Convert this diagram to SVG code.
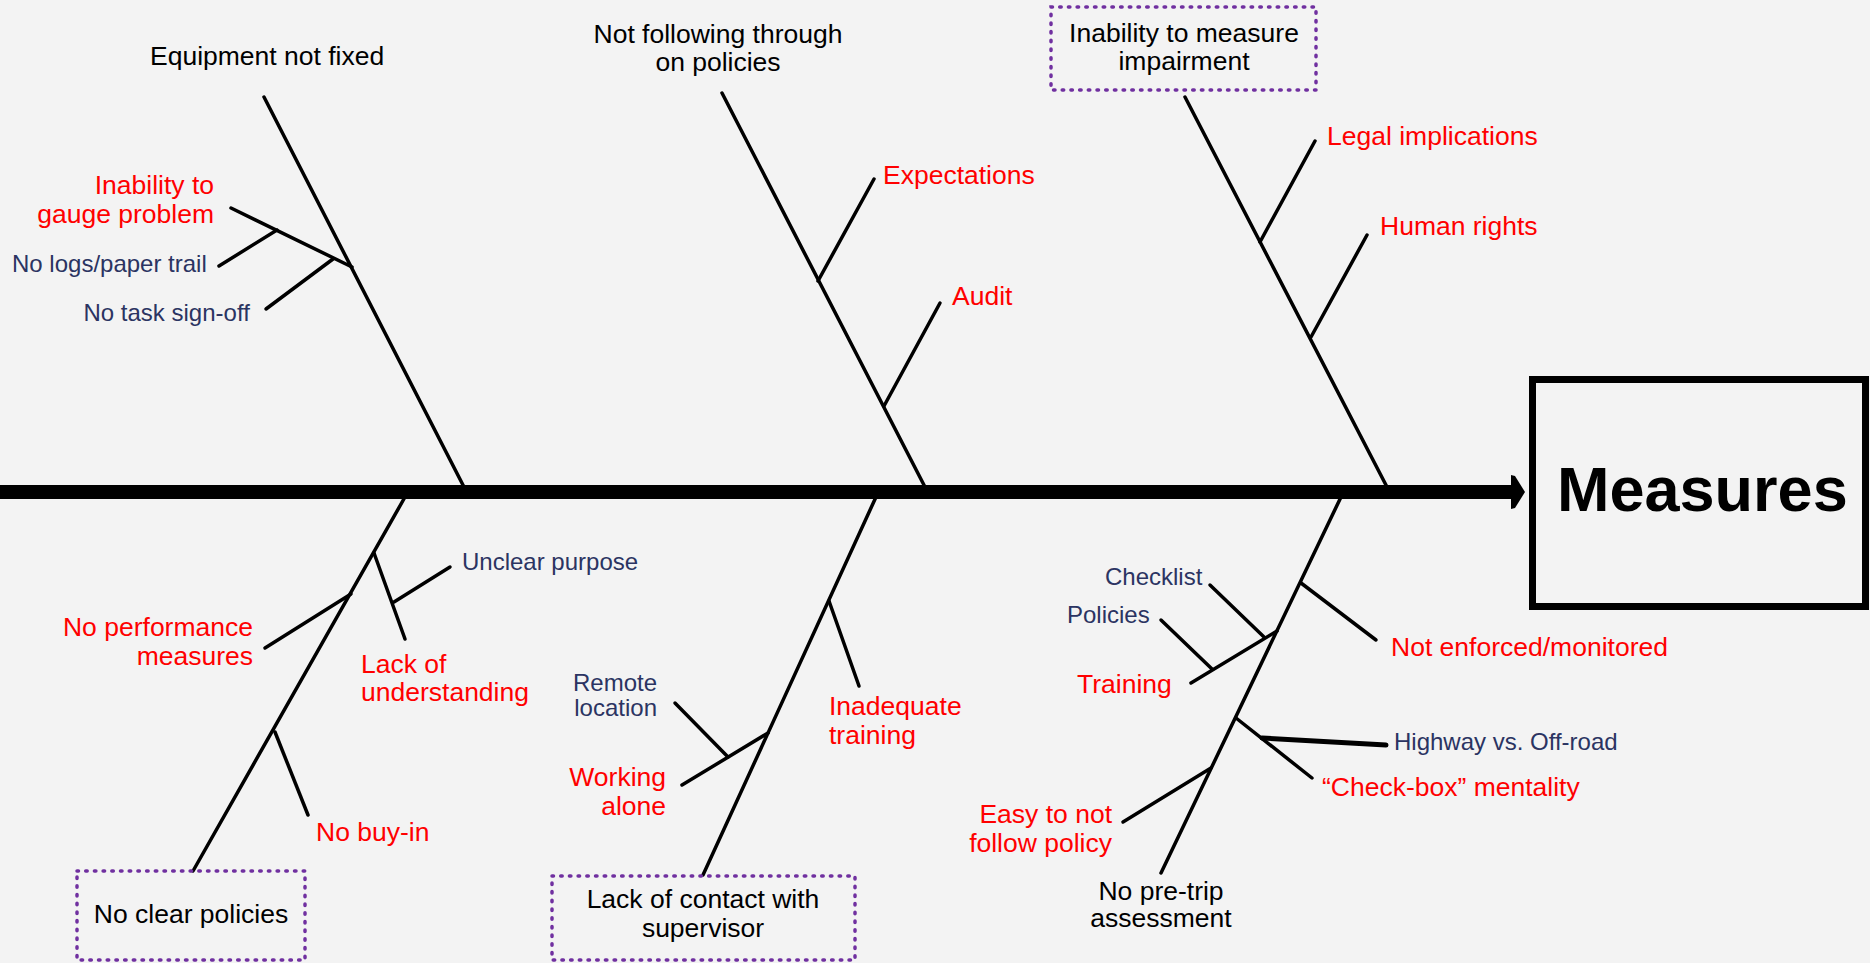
<svg xmlns="http://www.w3.org/2000/svg" width="1870" height="963" viewBox="0 0 1870 963">
<style>
text{font-family:"Liberation Sans",Arial,sans-serif;}
.k{fill:#000;font-size:26.5px;}
.r{fill:#ff0000;font-size:26.5px;}
.n{fill:#2b3462;font-size:24px;}
.b{stroke:#000;stroke-width:3.5;stroke-linecap:round;fill:none;}
.d{fill:none;stroke:#7030a0;stroke-width:3.5;stroke-linecap:round;stroke-dasharray:1.5 7.2;}
.m{text-anchor:middle;}
.e{text-anchor:end;}
</style>
<rect x="0" y="0" width="1870" height="963" fill="#f3f3f3"/>
<g id="connectors">
<rect x="0" y="485" width="1514" height="14" fill="#000"/>
<polygon points="1511,475 1515,476 1525,492 1515,508 1511,509" fill="#000"/>
<line class="b" x1="264" y1="97" x2="464" y2="487"/>
<line class="b" x1="231" y1="208" x2="352" y2="267"/>
<line class="b" x1="219" y1="266" x2="277" y2="230"/>
<line class="b" x1="266" y1="309" x2="333" y2="259"/>
<line class="b" x1="722" y1="93" x2="925" y2="487"/>
<line class="b" x1="874" y1="179" x2="818" y2="281"/>
<line class="b" x1="940" y1="303" x2="884" y2="406"/>
<line class="b" x1="1185" y1="97" x2="1387" y2="487"/>
<line class="b" x1="1315" y1="141" x2="1260" y2="242"/>
<line class="b" x1="1367" y1="235" x2="1311" y2="337"/>
<line class="b" x1="405" y1="497" x2="193" y2="871"/>
<line class="b" x1="374" y1="553" x2="405" y2="639"/>
<line class="b" x1="450" y1="567" x2="394" y2="602"/>
<line class="b" x1="265" y1="648" x2="351" y2="594"/>
<line class="b" x1="275" y1="732" x2="308" y2="815"/>
<line class="b" x1="876" y1="497" x2="703" y2="875"/>
<line class="b" x1="829" y1="601" x2="859" y2="686"/>
<line class="b" x1="682" y1="785" x2="768" y2="733"/>
<line class="b" x1="675" y1="703" x2="728" y2="757"/>
<line class="b" x1="1341" y1="497" x2="1161" y2="873"/>
<line class="b" x1="1301" y1="583" x2="1376" y2="640"/>
<line class="b" x1="1277" y1="631" x2="1191" y2="683"/>
<line class="b" x1="1210" y1="585" x2="1264" y2="637"/>
<line class="b" x1="1161" y1="620" x2="1212" y2="669"/>
<line class="b" x1="1236" y1="718" x2="1312" y2="778"/>
<line class="b" style="stroke-width:5" x1="1262" y1="738" x2="1386" y2="745"/>
<line class="b" x1="1123" y1="822" x2="1211" y2="768"/>
</g>
<g id="measures">
<rect x="1532.5" y="379.5" width="333" height="227" fill="none" stroke="#000" stroke-width="7"/>
<text x="1557" y="511" font-size="63" font-weight="bold" fill="#000">Measures</text>
</g>
<g id="equipment-not-fixed"><text class="k" x="150" y="65">Equipment not fixed</text></g>
<g id="inability-gauge"><text class="r e" x="214" y="194">Inability to</text><text class="r e" x="214" y="223">gauge problem</text></g>
<g id="no-logs"><text class="n" x="12" y="272">No logs/paper trail</text></g>
<g id="no-task-signoff"><text class="n" x="83.5" y="321">No task sign-off</text></g>
<g id="not-following"><text class="k m" x="718" y="43">Not following through</text><text class="k m" x="718" y="71">on policies</text></g>
<g id="expectations"><text class="r" x="883" y="184">Expectations</text></g>
<g id="audit"><text class="r" x="952" y="305">Audit</text></g>
<g id="inability-measure">
<rect class="d" x="1051" y="7" width="265" height="83"/>
<text class="k m" x="1184" y="42">Inability to measure</text><text class="k m" x="1184" y="70">impairment</text></g>
<g id="legal"><text class="r" x="1327" y="145">Legal implications</text></g>
<g id="human-rights"><text class="r" x="1380" y="235">Human rights</text></g>
<g id="unclear-purpose"><text class="n" x="462" y="570">Unclear purpose</text></g>
<g id="lack-understanding"><text class="r" x="361" y="673">Lack of</text><text class="r" x="361" y="701">understanding</text></g>
<g id="no-performance"><text class="r e" x="253" y="636">No performance</text><text class="r e" x="253" y="665">measures</text></g>
<g id="no-buyin"><text class="r" x="316" y="841">No buy-in</text></g>
<g id="no-clear-policies">
<rect class="d" x="77" y="871" width="228" height="89"/>
<text class="k m" x="191" y="923">No clear policies</text></g>
<g id="remote-location"><text class="n e" x="657" y="691">Remote</text><text class="n e" x="657" y="716">location</text></g>
<g id="working-alone"><text class="r e" x="666" y="786">Working</text><text class="r e" x="666" y="815">alone</text></g>
<g id="inadequate-training"><text class="r" x="829" y="715">Inadequate</text><text class="r" x="829" y="744">training</text></g>
<g id="lack-contact">
<rect class="d" x="552" y="876" width="303" height="84"/>
<text class="k m" x="703" y="908">Lack of contact with</text><text class="k m" x="703" y="937">supervisor</text></g>
<g id="checklist"><text class="n" x="1105" y="585">Checklist</text></g>
<g id="policies"><text class="n" x="1067" y="623">Policies</text></g>
<g id="training"><text class="r" x="1077" y="693">Training</text></g>
<g id="not-enforced"><text class="r" x="1391" y="656">Not enforced/monitored</text></g>
<g id="highway"><text class="n" x="1394" y="750">Highway vs. Off-road</text></g>
<g id="checkbox"><text class="r" x="1322" y="796">“Check-box” mentality</text></g>
<g id="easy-not-follow"><text class="r e" x="1112" y="823">Easy to not</text><text class="r e" x="1112" y="852">follow policy</text></g>
<g id="no-pretrip"><text class="k m" x="1161" y="900">No pre-trip</text><text class="k m" x="1161" y="927">assessment</text></g>
</svg>
